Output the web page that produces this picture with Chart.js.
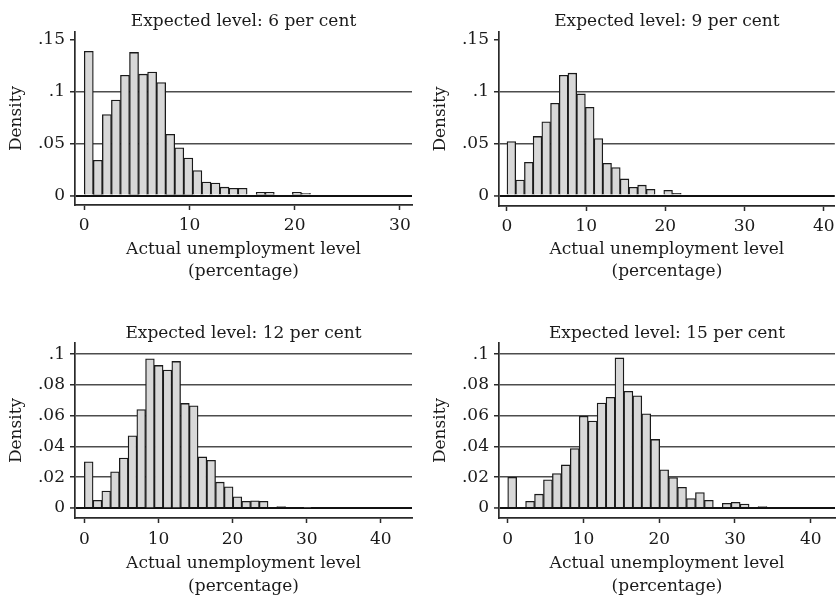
<!DOCTYPE html>
<html><head><meta charset="utf-8">
<script src="https://cdn.jsdelivr.net/npm/chart.js@4"></script>
<style>
html,body{margin:0;padding:0;background:#fff;overflow:hidden;width:840px;height:600px}
canvas{position:absolute}
</style></head><body>
<canvas id="c1" width="420" height="300" style="left:0;top:0"></canvas>
<canvas id="c2" width="416" height="300" style="left:424px;top:0"></canvas>
<canvas id="c3" width="420" height="300" style="left:0;top:300px"></canvas>
<canvas id="c4" width="416" height="300" style="left:424px;top:300px"></canvas>
<script>
// ---- data ----
const panelTitles = ['Expected level: 6 per cent', 'Expected level: 9 per cent',
                     'Expected level: 12 per cent', 'Expected level: 15 per cent'];
const binWidths = [0.86, 1.1, 1.18, 1.18];           // histogram bin width (percentage points)
const density6  = [0.139, 0.034, 0.078, 0.092, 0.116, 0.138, 0.117, 0.119, 0.109, 0.059,
                   0.046, 0.036, 0.024, 0.013, 0.012, 0.008, 0.007, 0.007, 0, 0.003,
                   0.003, 0, 0, 0.003, 0.002];
const density9  = [0.052, 0.015, 0.032, 0.057, 0.071, 0.089, 0.116, 0.118, 0.098, 0.085,
                   0.055, 0.031, 0.027, 0.016, 0.008, 0.010, 0.006, 0, 0.005, 0.002];
const density12 = [0.030, 0.005, 0.011, 0.0235, 0.0325, 0.047, 0.064, 0.097, 0.0927, 0.0897,
                   0.0953, 0.068, 0.0664, 0.0332, 0.031, 0.0168, 0.0138, 0.0073, 0.0043, 0.0047,
                   0.0043, 0, 0.001, 0, 0, 0.0005];
const density15 = [0.020, 0, 0.0043, 0.009, 0.0183, 0.0224, 0.028, 0.0386, 0.0597, 0.0565,
                   0.0683, 0.072, 0.0976, 0.0759, 0.073, 0.0612, 0.0446, 0.0248, 0.0198, 0.0134,
                   0.0062, 0.0101, 0.005, 0, 0.003, 0.0037, 0.0026, 0, 0.001];
const xTickStep = 10;
const yTickSteps = [0.05, 0.05, 0.02, 0.02];
const xAxisLabel = ['Actual unemployment level', '(percentage)'];
const yAxisLabel = 'Density';

// ---- layout / style (not data) ----
const FONT = 'DejaVu Serif';
const INK = '#1a1a1a';
Chart.defaults.font.family = FONT;
Chart.defaults.color = INK;

const panels = [
  {id:'c1', dens:density6,  w:binWidths[0], title:panelTitles[0], yStep:yTickSteps[0],
   xMin:-0.88, xMax:31.15, yMin:-0.0092, yMax:0.1577, hideTop:true,
   padRight:8, bottom:205, titlePad:{top:13,bottom:2}, xTitlePad:17.5, xTitleLH:22, tickPad:5.3},
  {id:'c2', dens:density9,  w:binWidths[1], title:panelTitles[1], yStep:yTickSteps[1],
   xMin:-1.01, xMax:41.4, yMin:-0.0101, yMax:0.1577, hideTop:true,
   padRight:5, bottom:206, titlePad:{top:13,bottom:2}, xTitlePad:17.5, xTitleLH:22, tickPad:5.3},
  {id:'c3', dens:density12, w:binWidths[2], title:panelTitles[2], yStep:yTickSteps[2],
   xMin:-1.26, xMax:44.2, yMin:-0.0065, yMax:0.1073, hideTop:false,
   padRight:8, bottom:218, titlePad:{top:25,bottom:1}, xTitlePad:1.5, xTitleLH:23, tickPad:6.3},
  {id:'c4', dens:density15, w:binWidths[3], title:panelTitles[3], yStep:yTickSteps[3],
   xMin:-1.15, xMax:43.2, yMin:-0.0065, yMax:0.1073, hideTop:false,
   padRight:5, bottom:218, titlePad:{top:25,bottom:1}, xTitlePad:1.5, xTitleLH:23, tickPad:6.3}
];

function fmtY(v){
  if (Math.abs(v) < 1e-9) return '0';
  return String(+v.toFixed(3)).replace(/^0/, '');
}

panels.forEach(p => {
  const canvas = document.getElementById(p.id);
  const H = canvas.height;
  new Chart(canvas, {
    type: 'bar',
    data: {
      datasets: [{
        data: p.dens.map((d, i) => ({x: (i + 0.5) * p.w, y: d})),
        backgroundColor: '#d8d8d8',
        borderColor: '#1a1a1a',
        borderWidth: 1.3,
        categoryPercentage: 1,
        barPercentage: 1
      }]
    },
    options: {
      responsive: false,
      animation: false,
      events: [],
      layout: {padding: {left: 0, top: 0, right: p.padRight, bottom: 0}},
      plugins: {
        legend: {display: false},
        tooltip: {enabled: false},
        title: {display: true, text: p.title, fullSize: false, align: 'center', color: INK,
                font: {family: FONT, size: 17, weight: 'normal', lineHeight: 1}, padding: p.titlePad}
      },
      scales: {
        x: {
          type: 'linear', min: p.xMin, max: p.xMax, offset: false,
          ticks: {stepSize: xTickStep, includeBounds: false, padding: p.tickPad, maxRotation: 0,
                  autoSkip: false, color: INK, font: {family: FONT, size: 17}},
          grid: {display: true, drawOnChartArea: false, drawTicks: true, tickLength: 5,
                 tickColor: '#2a2a2a', tickWidth: 1.5, offset: false},
          border: {display: true, color: '#2a2a2a', width: 1.7},
          title: {display: true, text: xAxisLabel, color: INK,
                  font: {family: FONT, size: 17, lineHeight: p.xTitleLH / 17},
                  padding: {top: 0, bottom: p.xTitlePad}},
          afterFit: s => { s.height = H - p.bottom; }
        },
        y: {
          min: p.yMin, max: p.yMax,
          ticks: {stepSize: p.yStep, includeBounds: false, padding: 5, color: INK,
                  font: {family: FONT, size: 17}, callback: v => fmtY(v)},
          grid: {
            drawOnChartArea: true, drawTicks: true, tickLength: 5, tickColor: '#2a2a2a', tickWidth: 1.5,
            color: c => {
              const v = c.tick ? c.tick.value : NaN;
              if (p.hideTop && Math.abs(v - 0.15) < 1e-6) return 'rgba(0,0,0,0)';
              return Math.abs(v) < 1e-9 ? '#111111' : '#4d4d4d';
            },
            lineWidth: c => (c.tick && Math.abs(c.tick.value) < 1e-9) ? 1.9 : 1.5
          },
          border: {display: true, color: '#2a2a2a', width: 1.7},
          title: {display: true, text: yAxisLabel, color: INK,
                  font: {family: FONT, size: 17, lineHeight: 1.2},
                  padding: {top: 6.5, bottom: 0}},
          afterFit: s => { s.width = 75; }
        }
      }
    }
  });
});
</script>
</body></html>
